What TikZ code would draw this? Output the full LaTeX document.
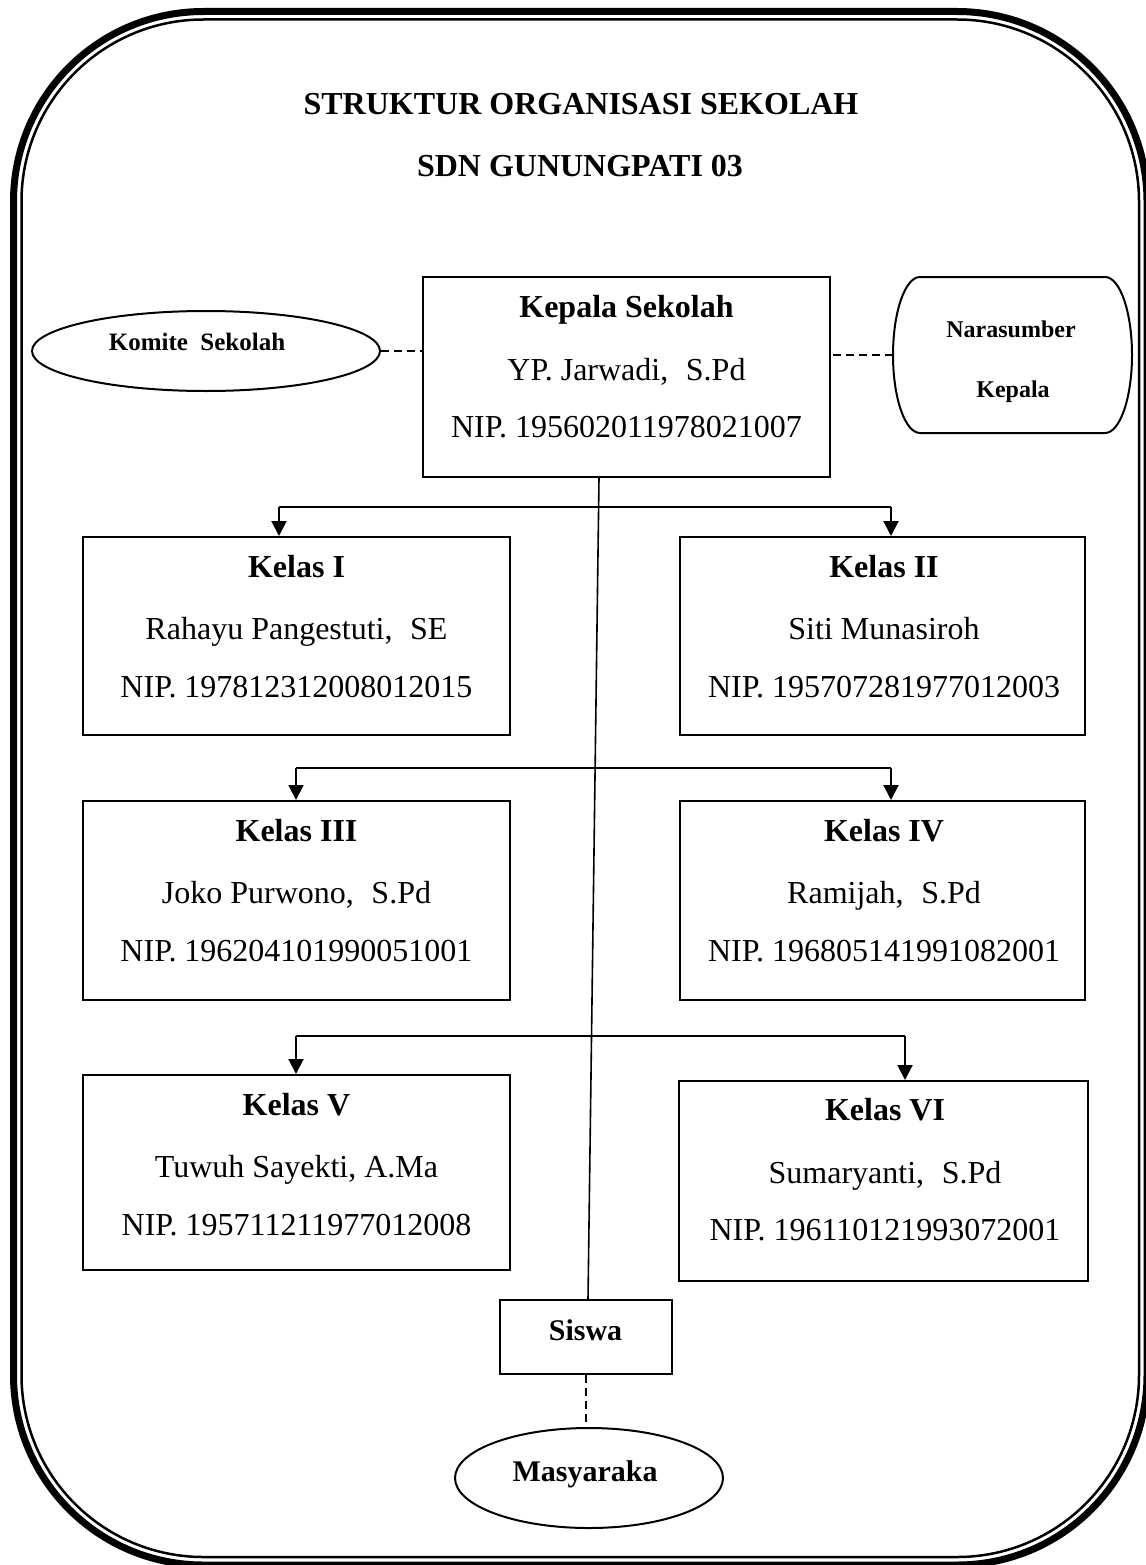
\documentclass[tikz,border=0pt]{standalone}
\usepackage{fontspec}
\setmainfont{Liberation Serif}
\usetikzlibrary{arrows.meta,shapes.geometric,calc}
\newcommand\wsp{\hspace{0.55em}}
\begin{document}
\begin{tikzpicture}[x=1pt,y=-1pt,
  bx/.style={draw,line width=2pt,inner sep=0pt},
  tx/.style={inner sep=0pt,anchor=base,font=\fontsize{32}{38}\selectfont},
  ttl/.style={inner sep=0pt,anchor=base,font=\bfseries\fontsize{32}{38}\selectfont},
  sml/.style={inner sep=0pt,anchor=base,font=\bfseries\fontsize{24}{28}\selectfont},
  mid/.style={inner sep=0pt,anchor=base,font=\bfseries\fontsize{30}{34}\selectfont},
  ell/.style={draw,ellipse,line width=2pt,inner sep=0pt},
  ln/.style={line width=2pt},
  arr/.style={line width=2pt,-{Triangle[width=15pt,length=15pt]}},
  dsh/.style={line width=1.6pt,dash pattern=on 8pt off 5pt}
]
\useasboundingbox (0,0) rectangle (1145,1565);
\fill[white] (0,0) rectangle (1145,1565);
% double rounded border
\draw[line width=7pt,rounded corners=190pt] (13.5,11.5) rectangle (1147,1565);
\draw[line width=2.5pt,rounded corners=182pt] (21.5,19.5) rectangle (1139,1557);

% title
\node[ttl] (t1) at (581,115) {STRUKTUR ORGANISASI SEKOLAH};
\node[ttl] (t2) at (580,177) {SDN GUNUNGPATI 03};

% Kepala Sekolah
\node[bx,minimum width=407pt,minimum height=200pt] (kep) at (626.5,377) {};
\node[ttl] (kepa) at (626.5,317) {Kepala Sekolah};
\node[tx] (kepb) at (626.5,380) {YP. Jarwadi,\wsp S.Pd};
\node[tx] (kepc) at (626.5,437) {NIP. 195602011978021007};

% Komite
\node[ell,minimum width=348pt,minimum height=80pt] (kom) at (206,351) {};
\node[sml,font=\bfseries\fontsize{25}{28}\selectfont] (komt) at (197,350) {Komite\hspace{0.5em}Sekolah};

% Narasumber
\node[inner sep=0pt,minimum width=239pt,minimum height=156pt] (nara) at (1012.5,355) {};
\draw[line width=2pt] (920,277) -- (1105,277)
  .. controls (1119.9,277) and (1132,311.9) .. (1132,355)
  .. controls (1132,398.1) and (1119.9,433) .. (1105,433)
  -- (920,433)
  .. controls (905.1,433) and (893,398.1) .. (893,355)
  .. controls (893,311.9) and (905.1,277) .. (920,277) -- cycle;
\node[sml] (narat) at (1011,337) {Narasumber};
\node[sml] (narab) at (1013,397) {Kepala};

% dashed links
\draw[dsh] (kom.east) -- (kom.east -| kep.west);
\draw[dsh] (nara.west) -- (nara.west -| kep.east);

% Kelas boxes
\node[bx,minimum width=427pt,minimum height=198pt] (k1) at (296.5,636) {};
\node[ttl] (k1a) at (296.5,577) {Kelas I};
\node[tx] (k1b) at (296.5,639) {Rahayu Pangestuti,\wsp SE};
\node[tx] (k1c) at (296.5,697) {NIP. 197812312008012015};

\node[bx,minimum width=405pt,minimum height=198pt] (k2) at (882.5,636) {};
\node[ttl] (k2a) at (884,577) {Kelas II};
\node[tx] (k2b) at (884,639) {Siti Munasiroh};
\node[tx] (k2c) at (884,697) {NIP. 195707281977012003};

\node[bx,minimum width=427pt,minimum height=199pt] (k3) at (296.5,900.5) {};
\node[ttl] (k3a) at (296.5,841) {Kelas III};
\node[tx] (k3b) at (296.5,903) {Joko Purwono,\wsp S.Pd};
\node[tx] (k3c) at (296.5,961) {NIP. 196204101990051001};

\node[bx,minimum width=405pt,minimum height=199pt] (k4) at (882.5,900.5) {};
\node[ttl] (k4a) at (884,841) {Kelas IV};
\node[tx] (k4b) at (884,903) {Ramijah,\wsp S.Pd};
\node[tx] (k4c) at (884,961) {NIP. 196805141991082001};

\node[bx,minimum width=427pt,minimum height=195pt] (k5) at (296.5,1172.5) {};
\node[ttl] (k5a) at (296.5,1115) {Kelas V};
\node[tx] (k5b) at (296.5,1177) {Tuwuh Sayekti, A.Ma};
\node[tx] (k5c) at (296.5,1235) {NIP. 195711211977012008};

\node[bx,minimum width=409pt,minimum height=200pt] (k6) at (883.5,1181) {};
\node[ttl] (k6a) at (885,1120) {Kelas VI};
\node[tx] (k6b) at (885,1183) {Sumaryanti,\wsp S.Pd};
\node[tx] (k6c) at (885,1240) {NIP. 196110121993072001};

% Siswa and Masyarakat
\node[bx,minimum width=172pt,minimum height=74pt] (sis) at (586,1337) {};
\node[mid] (sist) at (585.5,1340) {Siswa};
\node[ell,minimum width=268pt,minimum height=100pt] (mas) at (589,1478) {};
\node[mid] (mast) at (585,1481) {Masyaraka};

% vertical line Kepala -> Siswa
\draw[line width=1.6pt] ($(kep.south)+(-27.5,0)$) -- ($(sis.north)+(2,0)$);
\draw[dsh] (sis.south) -- (sis.south |- mas.north);

% branch rows
\coordinate (r1l) at (279,507);
\coordinate (r1r) at (891,507);
\draw[ln] (r1l) -- (r1r);
\draw[arr] (r1l) -- (r1l |- k1.north);
\draw[arr] (r1r) -- (r1r |- k2.north);

\coordinate (r2l) at (296,768);
\coordinate (r2r) at (891,768);
\draw[ln] (r2l) -- (r2r);
\draw[arr] (r2l) -- (r2l |- k3.north);
\draw[arr] (r2r) -- (r2r |- k4.north);

\coordinate (r3l) at (296,1036);
\coordinate (r3r) at (905,1036);
\draw[ln] (r3l) -- (r3r);
\draw[arr] (r3l) -- (r3l |- k5.north);
\draw[arr] (r3r) -- (r3r |- k6.north);
\end{tikzpicture}
\end{document}
